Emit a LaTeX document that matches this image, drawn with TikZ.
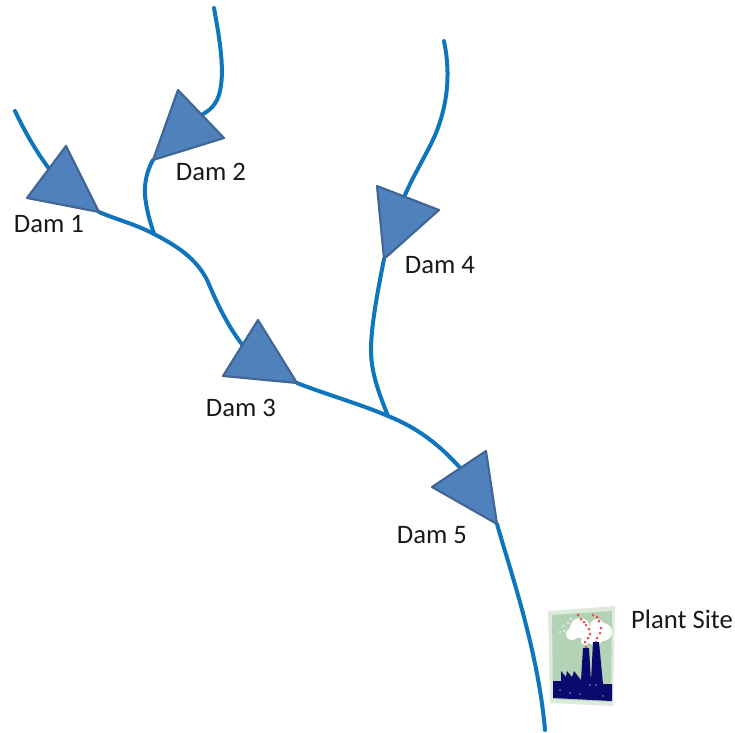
\documentclass[tikz,border=0pt]{standalone}
\usepackage{fontspec}
\setmainfont{Carlito}
\definecolor{river}{HTML}{0F75BD}
\definecolor{damfill}{HTML}{4F81BD}
\definecolor{damedge}{HTML}{3F6695}
\definecolor{cardedge}{HTML}{DCEBDC}
\definecolor{cardfill}{HTML}{B4D2B4}
\definecolor{plant}{HTML}{0A0A6E}
\definecolor{smoke}{HTML}{F04848}
\tikzset{
  riverline/.style={draw=river,line width=3pt,line cap=round},
  dam/.style={draw=damedge,fill=damfill,line width=1.6pt,line join=round},
  damlabel/.style={font=\fontsize{20}{24}\selectfont,text=black!90,inner sep=0pt},
  puff/.style={fill=smoke,draw=none},
}
\begin{document}
\begin{tikzpicture}[x=0.75pt,y=-0.75pt]
\useasboundingbox (0,0) rectangle (735,732);

% junctions and free river ends
\coordinate (src1) at (15,111);
\coordinate (src2) at (214,8);
\coordinate (src4) at (444,41);
\coordinate (mouth) at (545,730);
\coordinate (j12) at (154,234);
\coordinate (j34) at (388,416);

% dam corners: apex, left or upper, and the corner the outflow leaves from
\coordinate (d1a) at (66,146);  \coordinate (d1b) at (27,198);  \coordinate (d1c) at (99,212);
\coordinate (d2a) at (178,90);  \coordinate (d2b) at (224,138); \coordinate (d2c) at (153,160);
\coordinate (d3a) at (258,320); \coordinate (d3b) at (223,376); \coordinate (d3c) at (297,383);
\coordinate (d4a) at (377,186); \coordinate (d4b) at (439,210); \coordinate (d4c) at (384,259);
\coordinate (d5a) at (486,451); \coordinate (d5b) at (432,487); \coordinate (d5c) at (497,524);

% river network
\draw[riverline] (src1) .. controls (24,130) and (35,150) .. (50,170);
\draw[riverline] (src2) .. controls (219,35) and (224,65) .. (221,85)
  .. controls (219,102) and (212,109) .. (203,114);
\draw[riverline] (src4) .. controls (450,70) and (449,100) .. (436,133)
  .. controls (428,152) and (415,172) .. (405,195);
\draw[riverline] (d1c) .. controls (115,219) and (135,224) .. (j12)
  .. controls (175,245) and (197,258) .. (208,282)
  .. controls (218,306) and (230,330) .. (245,348);
\draw[riverline] (d2c) .. controls (146,172) and (143,188) .. (146,203)
  .. controls (148,216) and (151,224) .. (j12);
\draw[riverline] (d3c) .. controls (325,394) and (360,404) .. (j34)
  .. controls (418,428) and (440,445) .. (462,470);
\draw[riverline] (d4c) .. controls (378,290) and (371,325) .. (371,350)
  .. controls (371,375) and (381,398) .. (j34);
\draw[riverline] (d5c) .. controls (510,570) and (538,650) .. (mouth);

% dams
\draw[dam] (d1a) -- (d1b) -- (d1c) -- cycle;
\draw[dam] (d2a) -- (d2b) -- (d2c) -- cycle;
\draw[dam] (d3a) -- (d3b) -- (d3c) -- cycle;
\draw[dam] (d4a) -- (d4b) -- (d4c) -- cycle;
\draw[dam] (d5a) -- (d5b) -- (d5c) -- cycle;

% labels
\node[damlabel] (lab1) at (49,224) {Dam 1};
\node[damlabel] (lab2) at (211,172) {Dam 2};
\node[damlabel] (lab3) at (241,408) {Dam 3};
\node[damlabel] (lab4) at (440,265) {Dam 4};
\node[damlabel] (lab5) at (432,535) {Dam 5};
\node[damlabel] (labp) at (682,619) {Plant Site};

% plant site picture
\fill[cardedge] (548,611) -- (615,606) -- (613,706) -- (550,703) -- cycle;
\fill[cardfill] (552,615) -- (612,611) -- (611,702) -- (553,699) -- cycle;
% steam clouds
\fill[white] (580,628) circle (10);
\fill[white] (572,634) circle (6);
\fill[white] (588,636) circle (7);
\fill[white] (595,636) circle (9);
\fill[white] (603,632) circle (9);
\fill[white] (597,626) circle (7);
\fill[white] (585,641) circle (4);
% smoke trails
\foreach \px/\py in {578/615,581/619,584/622,586/625,589/629,590/634,588/638,585/642,586/647,
                     593/615,597/617,599/621,601/628,600/633,597/638,596/642}{
  \fill[puff] (\px,\py) circle (1.5);
}
% faint steam flecks at upper left
\foreach \px/\py in {560/632,564/631,563/626,568/623,571/619}{
  \fill[white!80!cardfill] (\px,\py) circle (1.1);
}
% factory silhouette
\fill[plant] (553,681) -- (561,681) -- (561,671) -- (566,677) -- (567,671) -- (572,677)
  -- (574,671) -- (581,680) -- (583,648) -- (589,648) -- (591,681) -- (593,642) -- (599,642)
  -- (603,684) -- (612,684) -- (612,701) -- (553,698) -- cycle;
\foreach \px/\py in {560/690,570/693,580/694,590/685,596/685,603/696}{
  \fill[cardfill!70!plant] (\px,\py) circle (0.9);
}
\end{tikzpicture}
\end{document}
